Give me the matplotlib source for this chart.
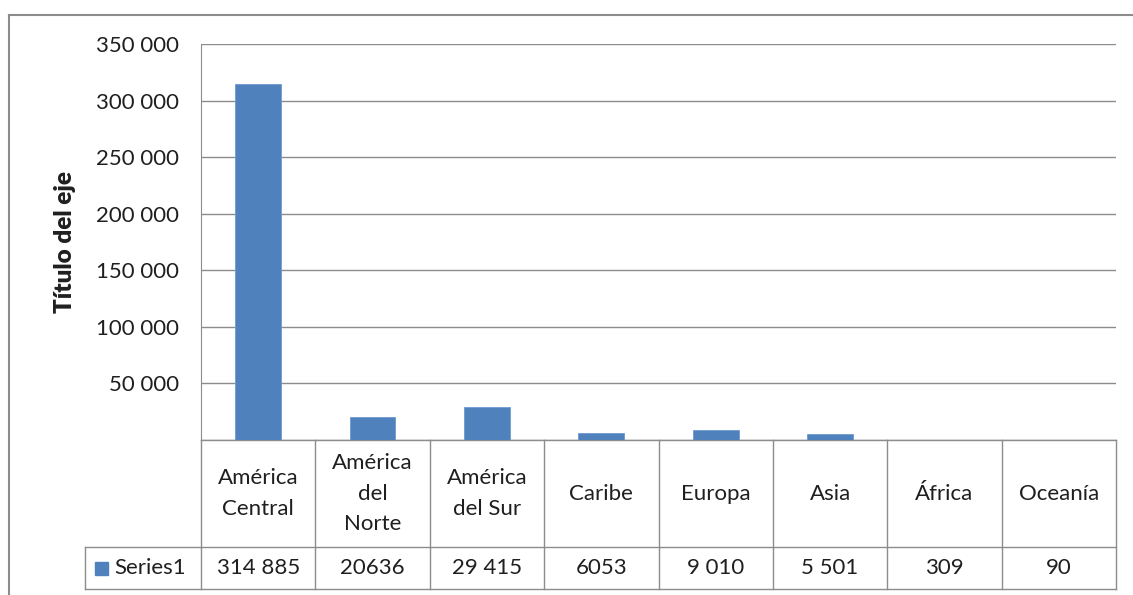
import matplotlib.pyplot as plt
from matplotlib.ticker import FuncFormatter, MultipleLocator
from matplotlib.patches import Rectangle
from matplotlib.lines import Line2D

# Data
regions = ["América\nCentral", "América\ndel\nNorte", "América\ndel Sur", "Caribe",
           "Europa", "Asia", "África", "Oceanía"]
values = [314885, 20636, 29415, 6053, 9010, 5501, 309, 90]
value_labels = ["314 885", "20636", "29 415", "6053", "9 010", "5 501", "309", "90"]
series_name = "Series1"
axis_title = "Título del eje"

plt.rcParams["font.family"] = ["Lato", "DejaVu Sans"]
text_color = "#1f1f1f"
line_color = "#8c8c8c"
bar_color = "#4f81bd"
fs = 16

fig = plt.figure(figsize=(11.33, 5.95), dpi=100)
ax = fig.add_axes([201 / 1133, 155 / 595, 915 / 1133, 396 / 595])

x = list(range(len(values)))
ax.bar(x, values, width=0.4, color=bar_color, edgecolor="#6f9bd0", linewidth=0.6, zorder=3)

ax.set_xlim(-0.5, len(values) - 0.5)
ax.set_ylim(0, 350000)
ax.yaxis.set_major_locator(MultipleLocator(50000))
ax.yaxis.set_major_formatter(FuncFormatter(
    lambda v, p: "" if v == 0 else f"{int(v):,}".replace(",", " ")))
ax.tick_params(axis="y", length=0, pad=16, labelsize=fs, labelcolor=text_color)
ax.set_xticks([])
ax.grid(axis="y", color=line_color, linewidth=1, zorder=0)
for side in ["top", "right", "bottom"]:
    ax.spines[side].set_visible(False)
ax.spines["left"].set_color(line_color)
ax.set_ylabel(axis_title, fontsize=17.5, fontweight="heavy", color=text_color, labelpad=14)

# Data table below the plot area (y in axes fraction)
tr = ax.get_xaxis_transform()
row1_bot = -107 / 396
row2_bot = -149 / 396
left_series = -0.5 - 116 / 114.4
n = len(values)
kw = dict(transform=tr, color=line_color, linewidth=1, clip_on=False)
ax.add_line(Line2D([-0.5, n - 0.5], [0, 0], **kw))
ax.add_line(Line2D([left_series, n - 0.5], [row1_bot, row1_bot], **kw))
ax.add_line(Line2D([left_series, n - 0.5], [row2_bot, row2_bot], **kw))
ax.add_line(Line2D([left_series, left_series], [row1_bot, row2_bot], **kw))
for i in range(n + 1):
    ax.add_line(Line2D([i - 0.5, i - 0.5], [0, row2_bot], **kw))

for i, (name, lab) in enumerate(zip(regions, value_labels)):
    ax.text(i, row1_bot / 2, name, transform=tr, ha="center", va="center",
            fontsize=fs, color=text_color, linespacing=1.65)
    ax.text(i, (row1_bot + row2_bot) / 2, lab, transform=tr, ha="center", va="center",
            fontsize=fs, color=text_color)

# legend key in table
key_w = 13 / 114.4
ax.add_patch(Rectangle((left_series + 10 / 114.4, (row1_bot + row2_bot) / 2 - 6.5 / 396),
                       key_w, 13 / 396, transform=tr, color=bar_color, clip_on=False))
ax.text(left_series + 29 / 114.4, (row1_bot + row2_bot) / 2, series_name, transform=tr,
        ha="left", va="center", fontsize=fs, color=text_color)

# outer chart border (top and left edges visible)
fig.add_artist(Line2D([9 / 1133, 1.0], [1 - 15 / 595, 1 - 15 / 595],
                      color=line_color, linewidth=1.5, transform=fig.transFigure))
fig.add_artist(Line2D([9 / 1133, 9 / 1133], [0.0, 1 - 15 / 595],
                      color=line_color, linewidth=1.5, transform=fig.transFigure))

fig.savefig("out.png", dpi=100)
